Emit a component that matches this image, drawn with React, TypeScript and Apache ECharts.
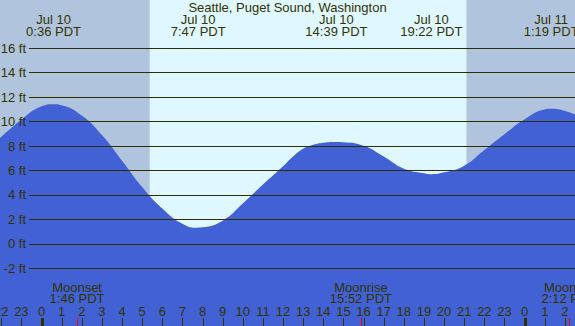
import React, { useEffect, useRef } from "react";
import * as echarts from "echarts";

// ---------- data ----------
const chartTitle = "Seattle, Puget Sound, Washington";

// tide curve (hours from Jul 10 00:00 PDT, feet)
const curveHours = [-2.1, -1, 0, 0.6, 1, 2, 3, 4, 5, 6, 7, 7.78, 8, 9, 10, 11, 12, 12.5, 13, 13.5, 14, 14.65, 15, 16, 17, 18, 19, 19.37, 20, 21, 22, 23, 24, 25, 25.32, 26, 26.6];
const curveFeet = [8.6, 10.15, 11.25, 11.43, 11.35, 10.5, 8.9, 6.8, 4.65, 2.9, 1.65, 1.32, 1.35, 1.9, 3.3, 4.85, 6.35, 7.15, 7.78, 8.1, 8.27, 8.34, 8.32, 8.02, 7.14, 6.15, 5.78, 5.7, 5.85, 6.4, 7.68, 8.97, 10.2, 11.0, 11.05, 10.87, 10.5];

// high / low tide labels
const tideDates = ["Jul 10", "Jul 10", "Jul 10", "Jul 10", "Jul 11"];
const tideTimes = ["0:36 PDT", "7:47 PDT", "14:39 PDT", "19:22 PDT", "1:19 PDT"];
const tideHours = [0 + 36 / 60, 7 + 47 / 60, 14 + 39 / 60, 19 + 22 / 60, 24 + 1 + 19 / 60];

// moon events
const moonNames = ["Moonset", "Moonrise", "Moonset"];
const moonTimes = ["1:46 PDT", "15:52 PDT", "2:12 PDT"];
const moonHours = [1 + 46 / 60, 15 + 52 / 60, 24 + 2 + 12 / 60];

// hour axis
const hourTicks = [-2, -1, 0, 1, 2, 3, 4, 5, 6, 7, 8, 9, 10, 11, 12, 13, 14, 15, 16, 17, 18, 19, 20, 21, 22, 23, 24, 25, 26];
const hourLabels = ["22", "23", "0", "1", "2", "3", "4", "5", "6", "7", "8", "9", "10", "11", "12", "13", "14", "15", "16", "17", "18", "19", "20", "21", "22", "23", "0", "1", "2"];
const midnightHours = [0, 24];

// sun
const sunrise = 5 + 23 / 60;
const sunset = 21 + 6 / 60;
const nightSpans = [[-3, sunrise], [sunset, 27]];
const daySpans = [[sunrise, sunset]];

// feet axis
const feetMin = -2;
const feetMax = 16;
const feetStep = 2;

// ---------- layout / style ----------
const W = 575;
const H = 326;
const X0 = 41.5; // pixel of hour 0
const PPH = 20.13; // pixels per hour
const LINE_TOP = 48.3;
const LINE_BOTTOM = 268.3;
const LINE_LEFT = 29;
const pxPerFt = (LINE_BOTTOM - LINE_TOP) / (feetMax - feetMin);
const xMin = -X0 / PPH;
const xMax = (W - X0) / PPH;
const yMin = feetMin - (H - LINE_BOTTOM) / pxPerFt;
const yMax = feetMax + LINE_TOP / pxPerFt;

const FONT = '"Liberation Sans", Arial, Helvetica, sans-serif';
const TEXT = "#333300";
const LINE = "#2e2e00";
const BLUE = "#4161D4";
const NIGHT = "#B0C4DE";
const DAY = "#DFF7FF";
const RED = "#ff0000";

export default function App() {
  const ref = useRef<HTMLDivElement>(null);

  useEffect(() => {
    document.body.style.margin = "0";
    if (!ref.current) return;
    const chart = echarts.init(ref.current, null, { renderer: "svg" });

    const spanSeries = (name: string, spans: number[][], color: string) => ({
      name,
      type: "custom",
      xAxisIndex: 0,
      yAxisIndex: 0,
      z: 0,
      silent: true,
      clip: true,
      data: spans,
      renderItem: (params: any, api: any) => {
        const a = api.coord([api.value(0), yMax]);
        const b = api.coord([api.value(1), yMin]);
        return {
          type: "rect",
          shape: { x: a[0], y: a[1], width: b[0] - a[0], height: b[1] - a[1] },
          style: { fill: color },
        };
      },
    });

    const textSeries = (
      name: string,
      hours: number[],
      top: number,
      lineHeight: number,
      textOf: (i: number) => string
    ) => ({
      name,
      type: "custom",
      xAxisIndex: 0,
      yAxisIndex: 0,
      z: 6,
      silent: true,
      data: hours.map((h) => [h, 0]),
      renderItem: (params: any, api: any) => {
        const i = params.dataIndex;
        const x = api.coord([api.value(0), 0])[0];
        return {
          type: "text",
          x,
          y: top,
          style: {
            text: textOf(i),
            fill: TEXT,
            fontSize: 13,
            fontFamily: FONT,
            align: "center",
            verticalAlign: "top",
            lineHeight,
          },
        };
      },
    });

    const tickSeries = (name: string, hours: number[], width: number, color: string) => ({
      name,
      type: "custom",
      xAxisIndex: 0,
      yAxisIndex: 0,
      z: 7,
      silent: true,
      data: hours.map((h) => [h, 0]),
      renderItem: (params: any, api: any) => {
        const x = api.coord([api.value(0), 0])[0];
        const bottom = api.coord([api.value(0), yMin])[1];
        return {
          type: "rect",
          shape: { x: Math.round(x - (width - 1) / 2), y: bottom - 8, width, height: 8 },
          style: { fill: color },
        };
      },
    });

    const option: any = {
      animation: false,
      backgroundColor: "transparent",
      title: {
        text: chartTitle,
        left: "center",
        top: 0.5,
        padding: 0,
        textStyle: { fontSize: 13, fontWeight: "normal", color: TEXT, fontFamily: FONT },
      },
      grid: [
        { left: 0, right: 0, top: 0, bottom: 0, containLabel: false, outerBoundsMode: "none" },
        {
          left: LINE_LEFT,
          right: 0,
          top: LINE_TOP,
          bottom: H - LINE_BOTTOM,
          containLabel: false,
          outerBoundsMode: "none",
        },
      ],
      xAxis: [
        { type: "value", gridIndex: 0, min: xMin, max: xMax, show: false },
        { type: "value", gridIndex: 1, min: 0, max: 1, show: false },
      ],
      yAxis: [
        { type: "value", gridIndex: 0, min: yMin, max: yMax, show: false },
        {
          type: "value",
          gridIndex: 1,
          min: feetMin,
          max: feetMax,
          interval: feetStep,
          z: 5,
          axisLine: { show: false },
          axisTick: { show: false },
          splitLine: { show: true, lineStyle: { color: LINE, width: 1 } },
          axisLabel: {
            show: true,
            margin: 3,
            formatter: (v: number) => `${v} ft`,
            color: TEXT,
            fontSize: 13,
            fontFamily: FONT,
          },
        },
      ],
      series: [
        spanSeries("night", nightSpans, NIGHT),
        spanSeries("day", daySpans, DAY),
        {
          name: "tide",
          type: "line",
          xAxisIndex: 0,
          yAxisIndex: 0,
          z: 2,
          smooth: 0.5,
          showSymbol: false,
          symbol: "none",
          silent: true,
          lineStyle: { width: 0, color: BLUE },
          areaStyle: { color: BLUE, opacity: 1, origin: "start" },
          data: curveHours.map((h, i) => [h, curveFeet[i]]),
        },
        textSeries("tideLabels", tideHours, 13, 12, (i) => `${tideDates[i]}\n${tideTimes[i]}`),
        textSeries("moonLabels", moonHours, 281.5, 11.5, (i) => `${moonNames[i]}\n${moonTimes[i]}`),
        {
          name: "hourLabels",
          type: "custom",
          xAxisIndex: 0,
          yAxisIndex: 0,
          z: 6,
          silent: true,
          data: hourTicks.map((h) => [h, 0]),
          renderItem: (params: any, api: any) => {
            const i = params.dataIndex;
            const x = api.coord([api.value(0), 0])[0];
            return {
              type: "text",
              x,
              y: 311.2,
              style: {
                text: hourLabels[i],
                fill: TEXT,
                fontSize: 13,
                fontFamily: FONT,
                align: "center",
                verticalAlign: "middle",
              },
            };
          },
        },
        tickSeries("hourTicks", hourTicks, 1, TEXT),
        tickSeries("midnightTicks", midnightHours, 3, TEXT),
        tickSeries("moonTicks", moonHours, 1, RED),
      ],
    };

    chart.setOption(option);
    return () => chart.dispose();
  }, []);

  return <div ref={ref} style={{ width: W, height: H }} />;
}
